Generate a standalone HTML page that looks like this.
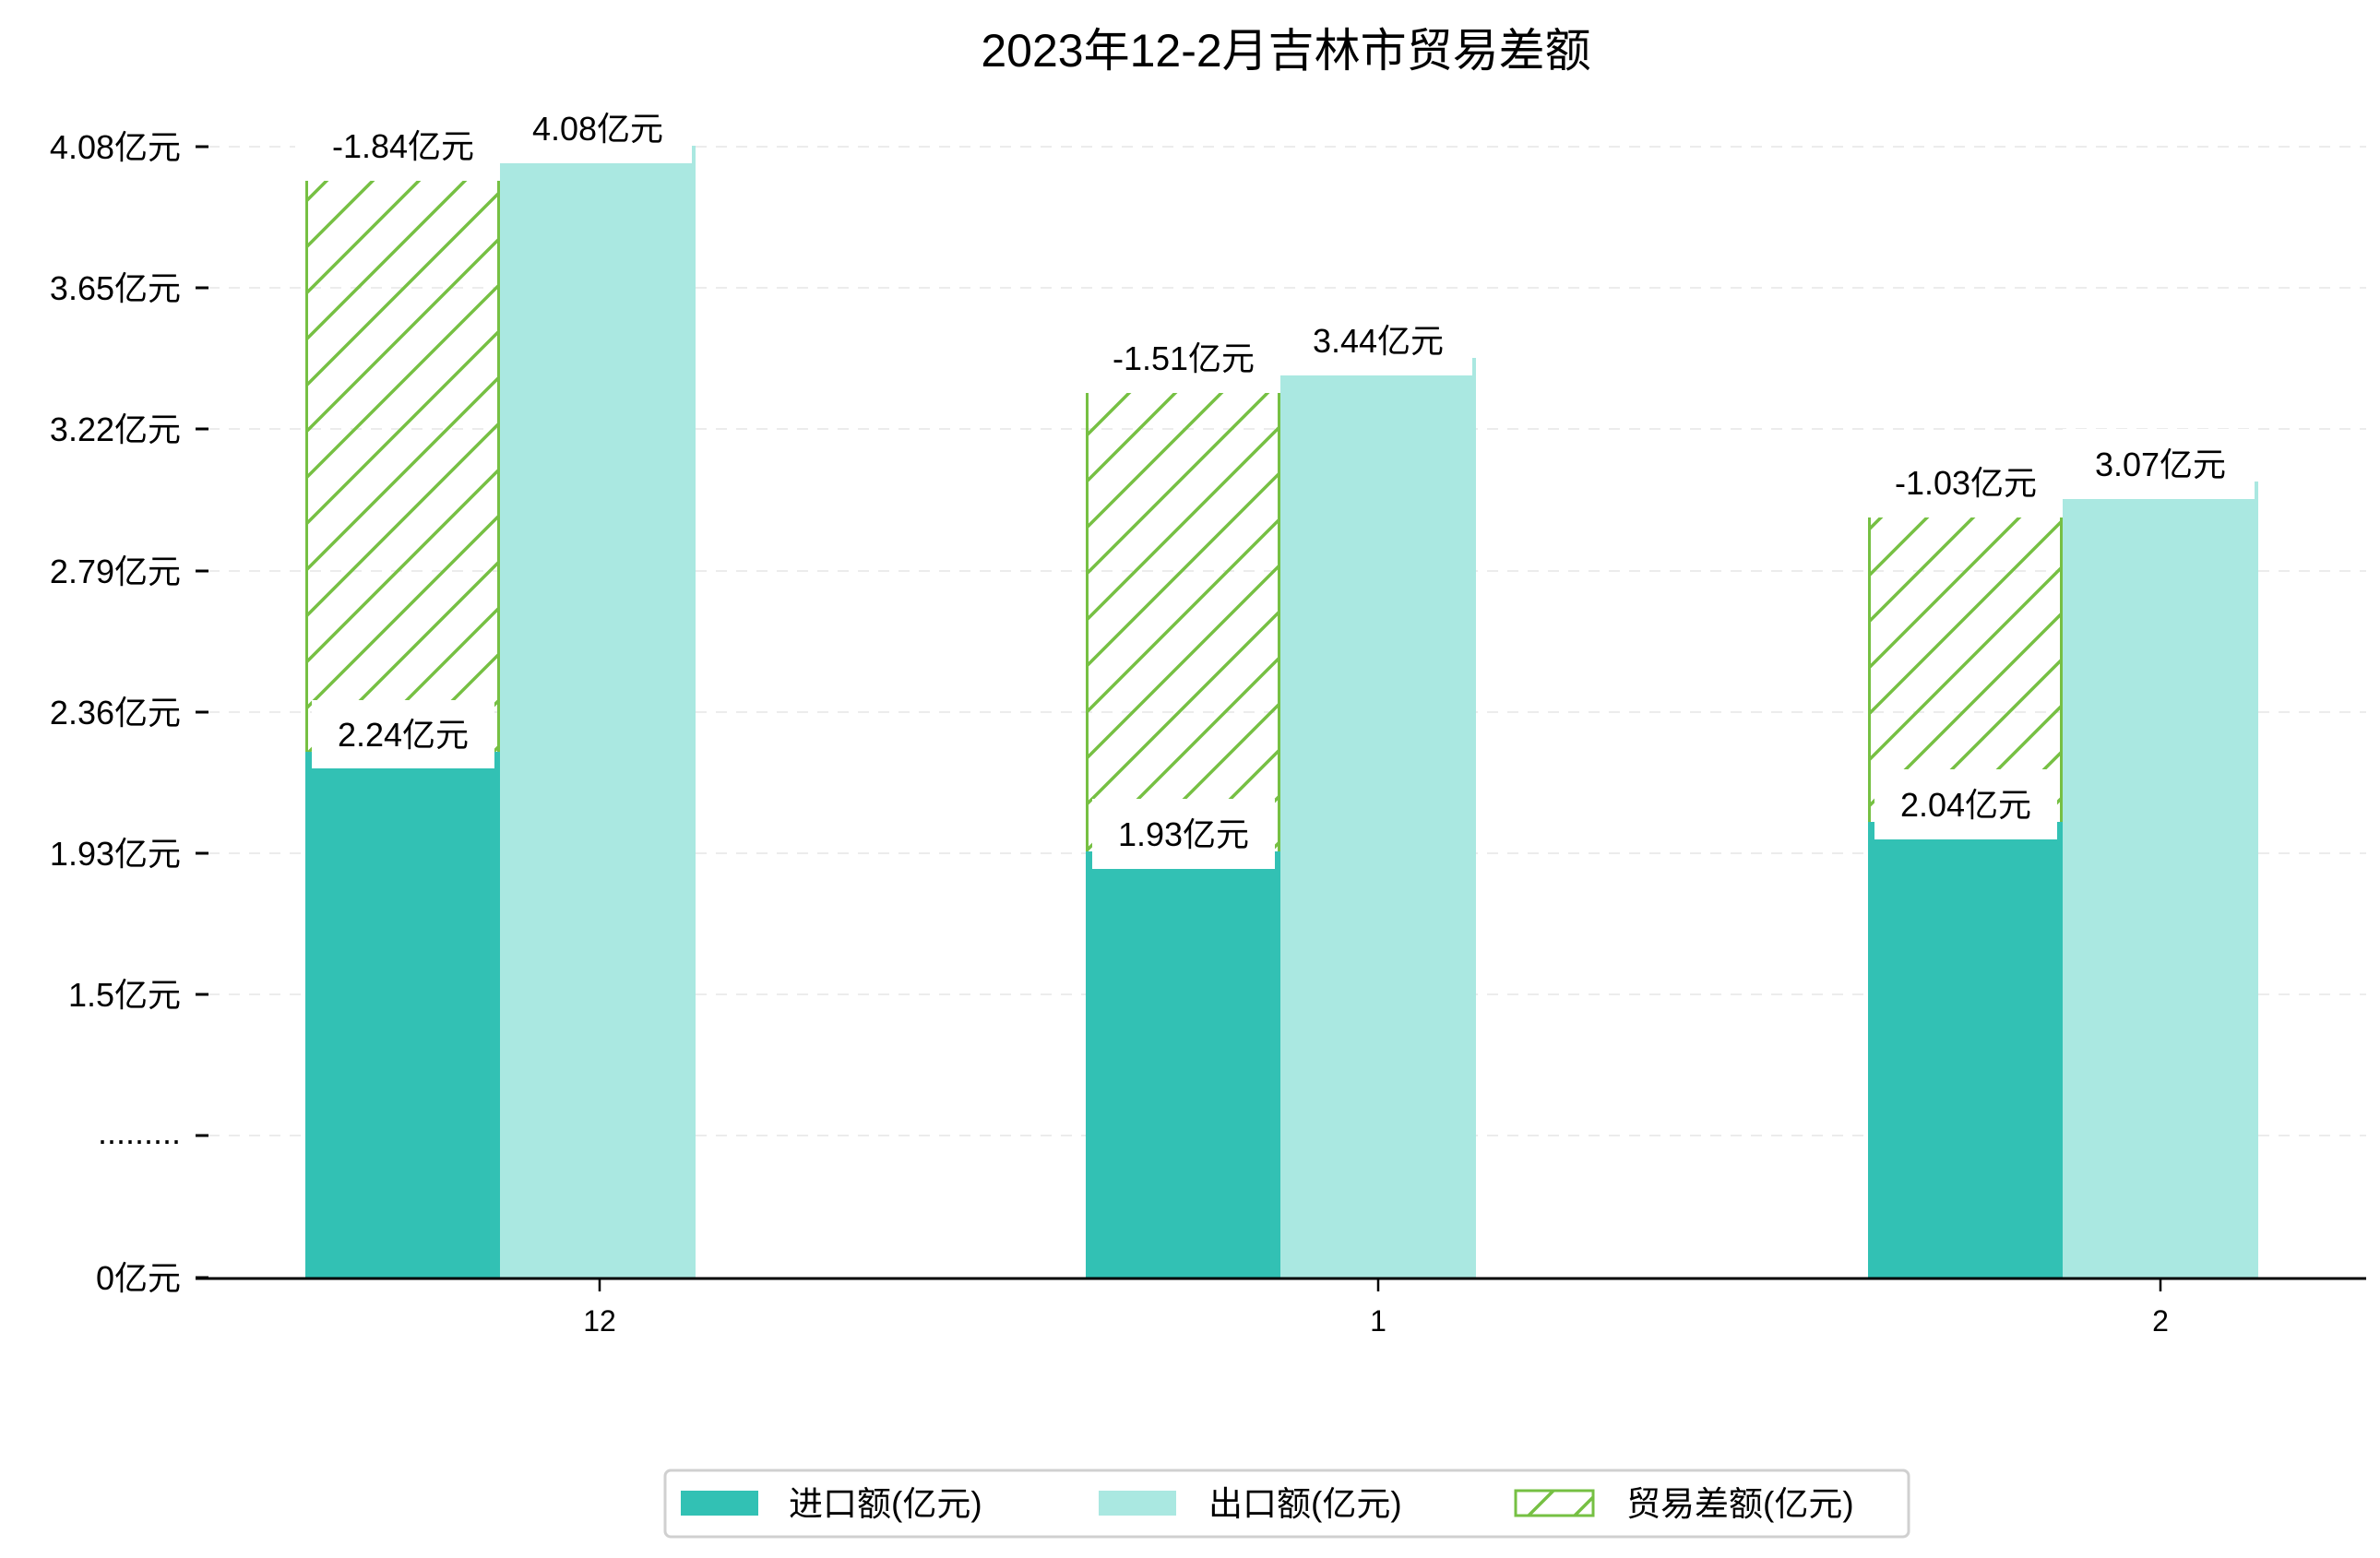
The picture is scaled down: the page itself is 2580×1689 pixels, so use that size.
<!DOCTYPE html>
<html><head><meta charset="utf-8"><style>
html,body{margin:0;padding:0;background:#fff;}
svg{display:block;font-family:"WenQuanYi Zen Hei","Liberation Sans","Noto Sans CJK SC",sans-serif;}
</style></head><body>
<svg width="2580" height="1689" viewBox="0 0 2580 1689" xmlns="http://www.w3.org/2000/svg">
<defs>
<pattern id="h" patternUnits="userSpaceOnUse" width="50" height="50">
<path d="M-10,60 L60,-10 M-10,10 L10,-10 M40,60 L60,40" stroke="#76c043" stroke-width="3.5"/>
</pattern>
</defs>
<text x="1394" y="72" font-size="50" text-anchor="middle" fill="#000">2023年12-2月吉林市贸易差额</text>
<g stroke="#ececec" stroke-width="2" stroke-dasharray="12,10">
<line x1="226" y1="159" x2="2565" y2="159"/><line x1="226" y1="312" x2="2565" y2="312"/>
<line x1="226" y1="465" x2="2565" y2="465"/><line x1="226" y1="619" x2="2565" y2="619"/>
<line x1="226" y1="772" x2="2565" y2="772"/><line x1="226" y1="925" x2="2565" y2="925"/>
<line x1="226" y1="1078" x2="2565" y2="1078"/><line x1="226" y1="1231" x2="2565" y2="1231"/>
</g>
<g stroke="#000" stroke-width="3">
<line x1="212" y1="159" x2="226" y2="159"/><line x1="212" y1="312" x2="226" y2="312"/>
<line x1="212" y1="465" x2="226" y2="465"/><line x1="212" y1="619" x2="226" y2="619"/>
<line x1="212" y1="772" x2="226" y2="772"/><line x1="212" y1="925" x2="226" y2="925"/>
<line x1="212" y1="1078" x2="226" y2="1078"/><line x1="212" y1="1231" x2="226" y2="1231"/>
<line x1="212" y1="1385" x2="226" y2="1385"/>
</g>
<g font-size="36" text-anchor="end" fill="#000">
<text x="196" y="172">4.08亿元</text><text x="196" y="325">3.65亿元</text>
<text x="196" y="478">3.22亿元</text><text x="196" y="632">2.79亿元</text>
<text x="196" y="785">2.36亿元</text><text x="196" y="938">1.93亿元</text>
<text x="196" y="1091">1.5亿元</text><text x="196" y="1240">.........</text>
<text x="196" y="1398">0亿元</text>
</g>
<g>
<rect x="331" y="815" width="211" height="570" fill="#32c1b4"/>
<rect x="542" y="158" width="212" height="1227" fill="#aae8e1"/>
<rect x="331" y="196" width="211" height="619" fill="url(#h)"/>
<line x1="332.5" y1="196" x2="332.5" y2="815" stroke="#76c043" stroke-width="3"/>
<line x1="540.5" y1="196" x2="540.5" y2="815" stroke="#76c043" stroke-width="3"/>

<rect x="1177" y="923" width="211" height="462" fill="#32c1b4"/>
<rect x="1388" y="388" width="212" height="997" fill="#aae8e1"/>
<rect x="1177" y="426" width="211" height="497" fill="url(#h)"/>
<line x1="1178.5" y1="426" x2="1178.5" y2="923" stroke="#76c043" stroke-width="3"/>
<line x1="1386.5" y1="426" x2="1386.5" y2="923" stroke="#76c043" stroke-width="3"/>

<rect x="2025" y="891" width="211" height="494" fill="#32c1b4"/>
<rect x="2236" y="522" width="212" height="863" fill="#aae8e1"/>
<rect x="2025" y="561" width="211" height="330" fill="url(#h)"/>
<line x1="2026.5" y1="561" x2="2026.5" y2="891" stroke="#76c043" stroke-width="3"/>
<line x1="2234.5" y1="561" x2="2234.5" y2="891" stroke="#76c043" stroke-width="3"/>
</g>
<g fill="#fff">
<rect x="320" y="120" width="222" height="76"/><rect x="542" y="101" width="208" height="76"/><rect x="338" y="759" width="198" height="74"/>
<rect x="1166" y="350" width="222" height="76"/><rect x="1388" y="331" width="208" height="76"/><rect x="1184" y="866" width="198" height="76"/>
<rect x="2014" y="485" width="222" height="76"/><rect x="2236" y="465" width="208" height="76"/><rect x="2032" y="834" width="198" height="76"/>
</g>
<g font-size="36" text-anchor="middle" fill="#000">
<text x="437" y="171">-1.84亿元</text><text x="648" y="152">4.08亿元</text><text x="437" y="809">2.24亿元</text>
<text x="1283" y="401">-1.51亿元</text><text x="1494" y="382">3.44亿元</text><text x="1283" y="917">1.93亿元</text>
<text x="2131" y="536">-1.03亿元</text><text x="2342" y="516">3.07亿元</text><text x="2131" y="885">2.04亿元</text>
</g>
<line x1="212" y1="1386" x2="2565" y2="1386" stroke="#000" stroke-width="3"/>
<g stroke="#000" stroke-width="2.5">
<line x1="650" y1="1386" x2="650" y2="1400"/><line x1="1494" y1="1386" x2="1494" y2="1400"/><line x1="2342" y1="1386" x2="2342" y2="1400"/>
</g>
<g font-size="32" text-anchor="middle" fill="#000">
<text x="650" y="1443">12</text><text x="1494" y="1443">1</text><text x="2342" y="1443">2</text>
</g>
<rect x="721" y="1594" width="1348" height="72" rx="6" fill="#fff" stroke="#d0d0d0" stroke-width="3"/>
<rect x="738" y="1616" width="84" height="27" fill="#32c1b4"/>
<rect x="1191" y="1616" width="84" height="27" fill="#aae8e1"/>
<rect x="1643" y="1616" width="84" height="27" fill="url(#h)" stroke="#76c043" stroke-width="3"/>
<g font-size="37" fill="#000">
<text x="855" y="1643">进口额(亿元)</text>
<text x="1310" y="1643">出口额(亿元)</text>
<text x="1763" y="1643">贸易差额(亿元)</text>
</g>
</svg>
</body></html>
